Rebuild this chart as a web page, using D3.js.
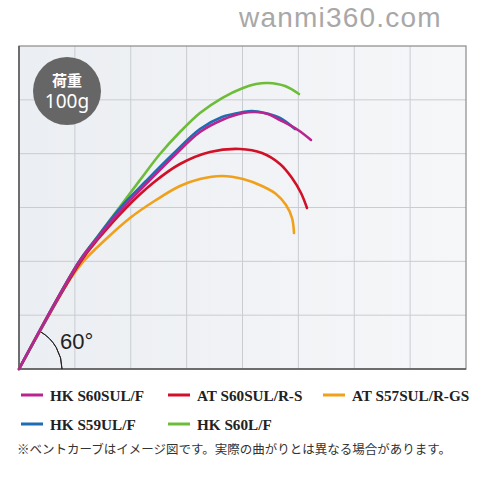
<!DOCTYPE html>
<meta charset="utf-8">
<style>
body { margin: 0; background: #fff; }
.grid line { stroke: #c9ccd1; stroke-width: 1; }
.legend text { font-family: "Liberation Serif", serif; font-weight: bold; font-size: 15.2px; fill: #222; }
</style>
<body>
<script src="https://d3js.org/d3.v7.min.js"></script>
<svg width="488" height="488"></svg>
<script>

// grid units: 8 columns x 6 rows, origin at bottom-left
var seriesNames = ["HK S60SUL/F", "AT S60SUL/R-S", "AT S57SUL/R-GS", "HK S59UL/F", "HK S60L/F"];
var seriesColors = ["#b8258f", "#d01128", "#f0a11c", "#1d6db4", "#6dbd38"];

var hkS60SUL = [[0,0],[1.074,1.988],[1.378,2.396],[1.861,2.991],[2.327,3.492],[2.810,3.994],[3.239,4.402],[3.633,4.625],[4.009,4.755],[4.224,4.774],[4.456,4.737],[4.671,4.625],[4.993,4.440],[5.226,4.254]];
var atS60SUL = [[0,0],[1.100,1.988],[1.432,2.433],[1.915,2.991],[2.398,3.455],[2.881,3.808],[3.418,4.031],[3.955,4.087],[4.349,4.012],[4.671,3.808],[4.886,3.548],[5.047,3.269],[5.154,2.991]];
var atS57SUL = [[0,0],[0.787,1.468],[1.145,1.988],[1.539,2.396],[1.987,2.805],[2.452,3.139],[2.881,3.399],[3.239,3.529],[3.633,3.585],[4.009,3.529],[4.349,3.399],[4.600,3.251],[4.779,3.046],[4.886,2.805],[4.922,2.526]];
var hkS59UL  = [[0,0],[1.070,1.988],[1.360,2.396],[1.808,2.991],[2.273,3.492],[2.756,3.994],[3.239,4.458],[3.633,4.681],[4.009,4.774],[4.170,4.793],[4.403,4.755],[4.671,4.663],[4.940,4.458]];
var hkS60L   = [[0,0],[1.070,1.988],[1.360,2.396],[1.790,2.991],[2.166,3.511],[2.523,3.994],[2.881,4.402],[3.239,4.755],[3.633,5.034],[4.009,5.220],[4.242,5.294],[4.456,5.313],[4.761,5.257],[5.011,5.108]];
var allSeries = [hkS60SUL, atS60SUL, atS57SUL, hkS59UL, hkS60L];
var drawOrder = [2, 1, 4, 3, 0];

var svg = d3.select("svg");
var pLeft = 19, pRight = 466, pTop = 46, pBottom = 369;

var x = d3.scaleLinear().domain([0, 8]).range([pLeft, pRight]);
var y = d3.scaleLinear().domain([0, 6]).range([pBottom, pTop]);

var defs = svg.append("defs");
var grad = defs.append("linearGradient").attr("id", "bg").attr("x1", "0").attr("x2", "1").attr("y1", "0").attr("y2", "0");
grad.append("stop").attr("offset", "0").attr("stop-color", "#ebeef2");
grad.append("stop").attr("offset", "1").attr("stop-color", "#f6f7f9");

// watermark
svg.append("text")
    .attr("x", 239).attr("y", 27)
    .attr("font-family", "Liberation Sans, Arial, sans-serif")
    .attr("font-size", 28)
    .attr("letter-spacing", 1.2)
    .attr("fill", "#a8a8a8")
    .text("wanmi360.com");

svg.append("rect")
    .attr("x", pLeft).attr("y", pTop)
    .attr("width", pRight - pLeft).attr("height", pBottom - pTop)
    .attr("fill", "url(#bg)");

var grid = svg.append("g").attr("class", "grid");
grid.selectAll(".v").data(d3.range(1, 8)).enter().append("line")
    .attr("x1", d => x(d)).attr("x2", d => x(d))
    .attr("y1", pTop).attr("y2", pBottom);
grid.selectAll(".h").data(d3.range(1, 6)).enter().append("line")
    .attr("y1", d => y(d)).attr("y2", d => y(d))
    .attr("x1", pLeft).attr("x2", pRight);

svg.append("rect")
    .attr("x", pLeft).attr("y", pTop)
    .attr("width", pRight - pLeft).attr("height", pBottom - pTop)
    .attr("fill", "none").attr("stroke", "#8a8a8a").attr("stroke-width", 1.2);
svg.append("path")
    .attr("d", "M" + pLeft + "," + pTop + "V" + pBottom + "H" + pRight)
    .attr("fill", "none").attr("stroke", "#555").attr("stroke-width", 1.5);

// badge
svg.append("circle").attr("cx", 67).attr("cy", 91).attr("r", 34).attr("fill", "#666");
svg.append("text").attr("x", 67).attr("y", 86).attr("text-anchor", "middle")
    .attr("font-family", "Noto Sans CJK JP, sans-serif").attr("font-weight", "bold")
    .attr("font-size", 15).attr("fill", "#fff").text("荷重");
svg.append("text").attr("x", 67).attr("y", 108).attr("text-anchor", "middle")
    .attr("font-family", "Noto Sans, sans-serif")
    .attr("font-size", 19).attr("fill", "#fff").text("100g");

// 60 degree arc
var arc = d3.arc().innerRadius(43).outerRadius(43).startAngle(Math.PI / 6).endAngle(Math.PI / 2);
svg.append("path")
    .attr("transform", "translate(" + pLeft + "," + pBottom + ")")
    .attr("d", arc)
    .attr("fill", "none").attr("stroke", "#222").attr("stroke-width", 1);
svg.append("text").attr("x", 60).attr("y", 349)
    .attr("font-family", "Liberation Sans, Arial, sans-serif")
    .attr("font-size", 22).attr("fill", "#222").text("60°");

var line = d3.line()
    .x(d => x(d[0])).y(d => y(d[1]))
    .curve(d3.curveCatmullRom.alpha(0.5));

svg.append("g").selectAll("path").data(drawOrder).enter().append("path")
    .attr("d", i => line(allSeries[i]))
    .attr("fill", "none")
    .attr("stroke", i => seriesColors[i])
    .attr("stroke-width", 2.6)
    .attr("stroke-linecap", "round");

// legend
var legendPos = [[21, 395], [168, 395], [323, 395], [21, 424], [168, 424]];
var legend = svg.append("g").attr("class", "legend");
var items = legend.selectAll("g").data(seriesNames).enter().append("g")
    .attr("transform", (d, i) => "translate(" + legendPos[i][0] + "," + legendPos[i][1] + ")");
items.append("line").attr("x1", 0).attr("x2", 22).attr("y1", 0).attr("y2", 0)
    .attr("stroke", (d, i) => seriesColors[i]).attr("stroke-width", 3);
items.append("text").attr("x", 29).attr("y", 5.5).text(d => d);

svg.append("text").attr("x", 17).attr("y", 454)
    .attr("font-family", "Noto Sans CJK JP, sans-serif")
    .attr("font-size", 12.5).attr("fill", "#333")
    .text("※ベントカーブはイメージ図です。実際の曲がりとは異なる場合があります。");

</script>
</body>
